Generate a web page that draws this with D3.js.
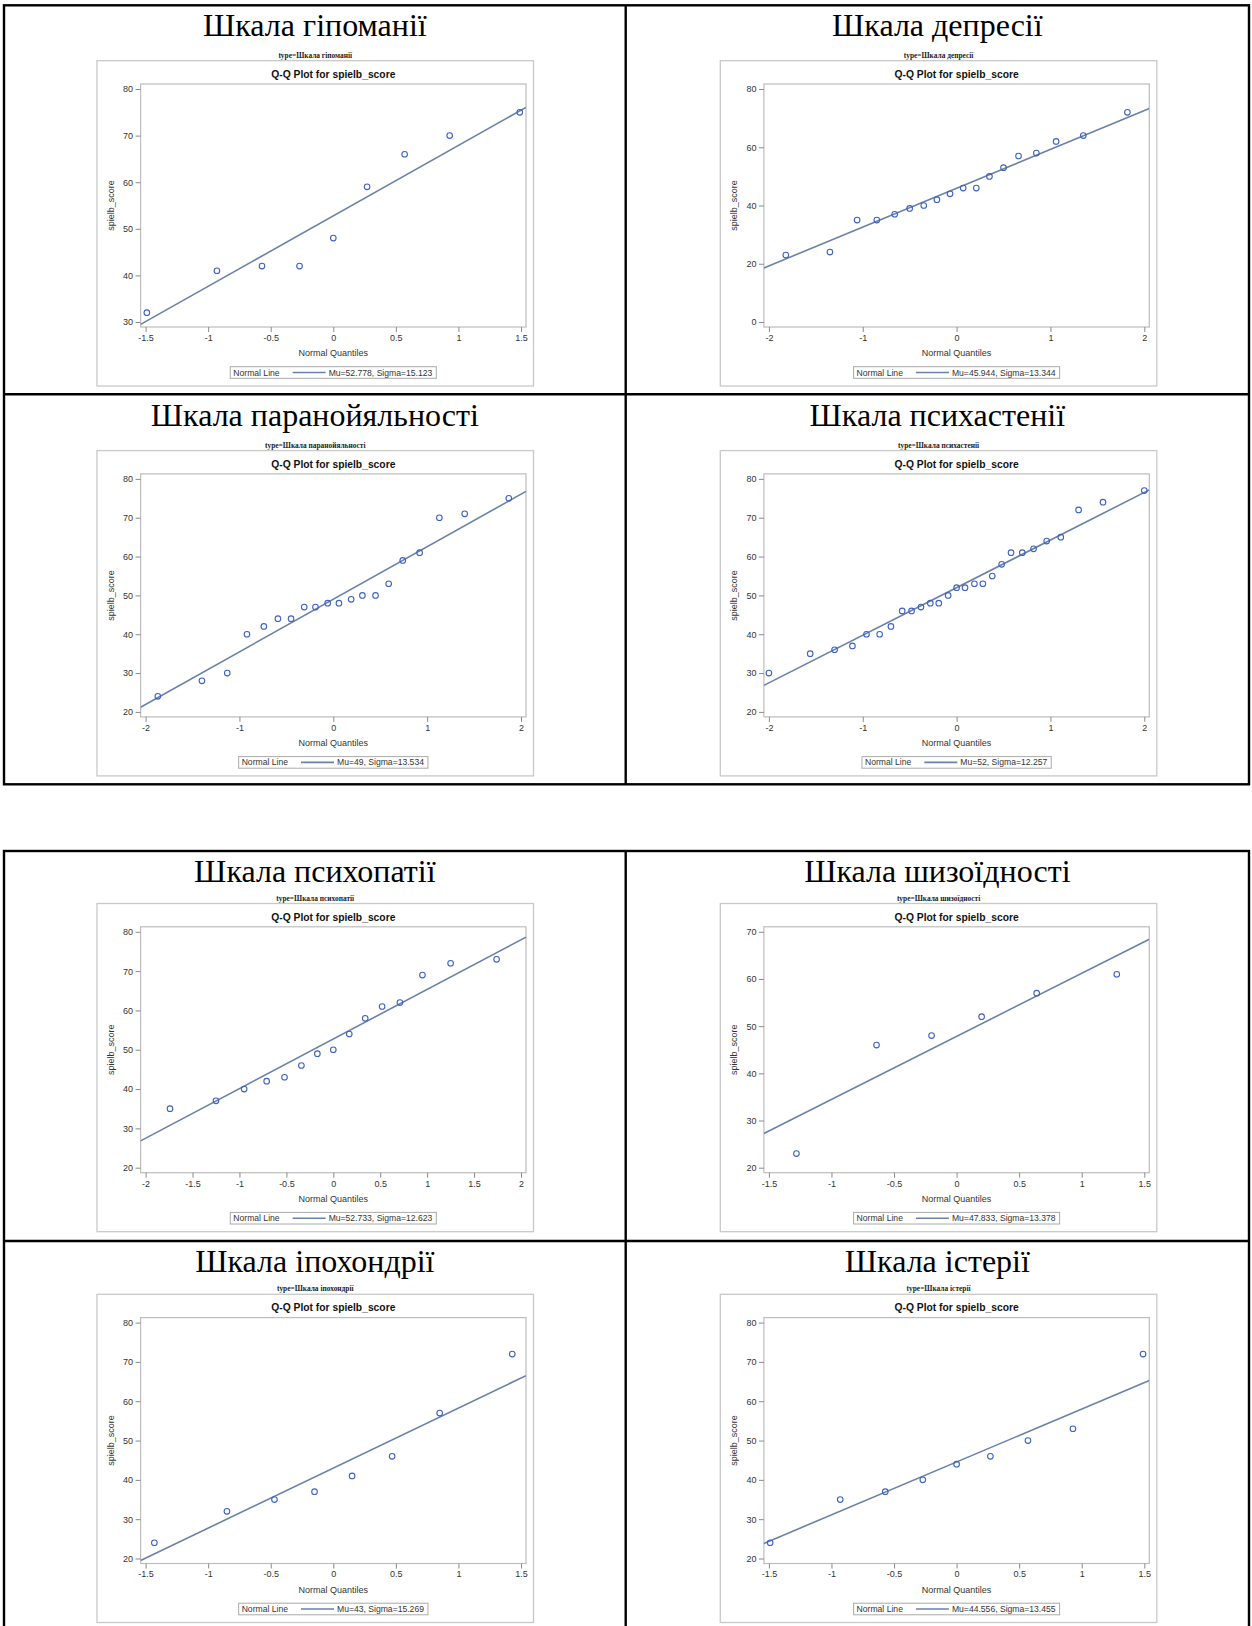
<!DOCTYPE html>
<html lang="uk">
<head>
<meta charset="utf-8">
<title>Q-Q Plots — spielb_score</title>
<script src="https://cdn.jsdelivr.net/npm/d3@7"></script>
<style>
  html, body { margin: 0; padding: 0; background: #fff; }
  svg { display: block; }
</style>
</head>
<body>
<svg id="chart" width="1252" height="1626"></svg>
<script>
// ---- Scale names (panel headings) ----
const scaleTitles = [
  "Шкала гіпоманії", "Шкала депресії",
  "Шкала паранойяльності", "Шкала психастенії",
  "Шкала психопатії", "Шкала шизоїдності",
  "Шкала іпохондрії", "Шкала істерії"
];

// ---- Observations: normal quantile (x) and sorted spielb_score (y) ----
const hypomaniaQuantiles = [-1.49, -0.93, -0.57, -0.27, 0, 0.27, 0.57, 0.93, 1.49];
const hypomaniaScores    = [32, 41, 42, 42, 48, 59, 66, 70, 75];

const depressionQuantiles = [-1.82, -1.35, -1.06, -0.85, -0.66, -0.50, -0.35, -0.21, -0.07,
                             0.07, 0.21, 0.35, 0.50, 0.66, 0.85, 1.06, 1.35, 1.82];
const depressionScores    = [23, 24, 35, 35, 37, 39, 40, 42, 44, 46, 46, 50, 53, 57, 58, 62, 64, 72];

const paranoiaQuantiles = [-1.87, -1.40, -1.13, -0.92, -0.74, -0.59, -0.45, -0.31, -0.19, -0.06,
                           0.06, 0.19, 0.31, 0.45, 0.59, 0.74, 0.92, 1.13, 1.40, 1.87];
const paranoiaScores    = [24, 28, 30, 40, 42, 44, 44, 47, 47, 48, 48, 49, 50, 50, 53, 59, 61, 70, 71, 75];

const psychastheniaQuantiles = [-2.00, -1.56, -1.30, -1.11, -0.96, -0.82, -0.70, -0.58, -0.48, -0.38,
                                -0.28, -0.19, -0.09, 0, 0.09, 0.19, 0.28, 0.38, 0.48, 0.58,
                                0.70, 0.82, 0.96, 1.11, 1.30, 1.56, 2.00];
const psychastheniaScores    = [30, 35, 36, 37, 40, 40, 42, 46, 46, 47, 48, 48, 50, 52, 52, 53, 53, 55,
                                58, 61, 61, 62, 64, 65, 72, 74, 77];

const psychopathyQuantiles = [-1.74, -1.25, -0.95, -0.71, -0.52, -0.34, -0.17, 0,
                              0.17, 0.34, 0.52, 0.71, 0.95, 1.25, 1.74];
const psychopathyScores    = [35, 37, 40, 42, 43, 46, 49, 50, 54, 58, 61, 62, 69, 72, 73];

const schizoidQuantiles = [-1.28, -0.64, -0.20, 0.20, 0.64, 1.28];
const schizoidScores    = [23, 46, 48, 52, 57, 61];

const hypochondriaQuantiles = [-1.43, -0.85, -0.47, -0.15, 0.15, 0.47, 0.85, 1.43];
const hypochondriaScores    = [24, 32, 35, 37, 41, 46, 57, 72];

const hysteriaQuantiles = [-1.49, -0.93, -0.57, -0.27, 0, 0.27, 0.57, 0.93, 1.49];
const hysteriaScores    = [24, 35, 37, 40, 44, 46, 50, 53, 72];

// ---- Fitted normal line parameters (shown in legends) ----
const muValues    = [52.778, 45.944, 49, 52, 52.733, 47.833, 43, 44.556];
const sigmaValues = [15.123, 13.344, 13.534, 12.257, 12.623, 13.378, 15.269, 13.455];

// ---- Axis tick values ----
const yTickSets = [
  [30, 40, 50, 60, 70, 80],
  [0, 20, 40, 60, 80],
  [20, 30, 40, 50, 60, 70, 80],
  [20, 30, 40, 50, 60, 70, 80],
  [20, 30, 40, 50, 60, 70, 80],
  [20, 30, 40, 50, 60, 70],
  [20, 30, 40, 50, 60, 70, 80],
  [20, 30, 40, 50, 60, 70, 80]
];
const xTickSets = [
  [-1.5, -1, -0.5, 0, 0.5, 1, 1.5],
  [-2, -1, 0, 1, 2],
  [-2, -1, 0, 1, 2],
  [-2, -1, 0, 1, 2],
  [-2, -1.5, -1, -0.5, 0, 0.5, 1, 1.5, 2],
  [-1.5, -1, -0.5, 0, 0.5, 1, 1.5],
  [-1.5, -1, -0.5, 0, 0.5, 1, 1.5],
  [-1.5, -1, -0.5, 0, 0.5, 1, 1.5]
];

const quantileSets = [hypomaniaQuantiles, depressionQuantiles, paranoiaQuantiles, psychastheniaQuantiles,
                      psychopathyQuantiles, schizoidQuantiles, hypochondriaQuantiles, hysteriaQuantiles];
const scoreSets    = [hypomaniaScores, depressionScores, paranoiaScores, psychastheniaScores,
                      psychopathyScores, schizoidScores, hypochondriaScores, hysteriaScores];

// ---- Layout ----
const svg = d3.select("#chart");
const SANS = "'Liberation Sans', Arial, sans-serif";
const SERIF = "'Liberation Serif', 'Times New Roman', serif";

const colEdges = [4, 625.7, 1249];
const tables = [
  { top: 5.3, mid: 394.2, bottom: 784.3 },
  { top: 851, mid: 1241, bottom: 1640 }
];
const frameX = [97, 720.3];
const frameW = 436.5;
const frameTop = [60.7, 450.6, 903.5, 1294.3];
const frameH = [325.3, 325.3, 328.2, 328.2];
const titleBase = [35.7, 425.6, 882.3, 1272.3];

const lineColor = "#6a82a8";
const markerColor = "#3d61c4";
const wallColor = "#bdbdbd";
const textColor = "#333";

// Table grid lines
const grid = svg.append("g").attr("stroke", "#000").attr("stroke-width", 2.4).attr("fill", "none");
tables.forEach(t => {
  grid.append("rect")
    .attr("x", colEdges[0]).attr("y", t.top)
    .attr("width", colEdges[2] - colEdges[0]).attr("height", t.bottom - t.top);
  grid.append("line").attr("x1", colEdges[0]).attr("x2", colEdges[2]).attr("y1", t.mid).attr("y2", t.mid);
  grid.append("line").attr("x1", colEdges[1]).attr("x2", colEdges[1]).attr("y1", t.top).attr("y2", t.bottom);
});

const defs = svg.append("defs");

scaleTitles.forEach((name, i) => {
  const row = Math.floor(i / 2), col = i % 2;
  const fx = frameX[col], fy = frameTop[row], fh = frameH[row];
  const cx = fx + frameW / 2;
  const g = svg.append("g");

  // Heading in the table cell
  g.append("text")
    .attr("x", (colEdges[col] + colEdges[col + 1]) / 2).attr("y", titleBase[row])
    .attr("text-anchor", "middle")
    .attr("font-family", SERIF).attr("font-size", 32)
    .attr("fill", "#000")
    .text(name);

  // BY-group label
  g.append("text")
    .attr("x", cx).attr("y", fy - 3)
    .attr("text-anchor", "middle")
    .attr("font-family", SERIF).attr("font-size", 7.4).attr("font-weight", "bold")
    .attr("fill", "#222")
    .text("type=" + name);

  // Graph frame
  g.append("rect")
    .attr("x", fx).attr("y", fy).attr("width", frameW).attr("height", fh)
    .attr("fill", "#fff").attr("stroke", "#c9c9c9").attr("stroke-width", 1.3);

  // Plot area
  const pl = fx + 43.6, pr = fx + 429, pt = fy + 23.3, pb = fy + fh - 59;
  const pc = (pl + pr) / 2;
  const pad = 5;

  // Graph title
  g.append("text")
    .attr("x", pc).attr("y", fy + 17)
    .attr("text-anchor", "middle")
    .attr("font-family", SANS).attr("font-size", 10.3).attr("font-weight", "bold")
    .attr("fill", "#111")
    .text("Q-Q Plot for spielb_score");

  const xt = xTickSets[i], yt = yTickSets[i];
  const x = d3.scaleLinear().domain([xt[0], xt[xt.length - 1]]).range([pl + pad, pr - pad]);
  const y = d3.scaleLinear().domain([yt[0], yt[yt.length - 1]]).range([pb - pad, pt + pad]);

  const clipId = "clip" + i;
  defs.append("clipPath").attr("id", clipId)
    .append("rect").attr("x", pl).attr("y", pt).attr("width", pr - pl).attr("height", pb - pt);

  g.append("rect")
    .attr("x", pl).attr("y", pt).attr("width", pr - pl).attr("height", pb - pt)
    .attr("fill", "#fff").attr("stroke", wallColor).attr("stroke-width", 1.2);

  const fmt = d => String(d);

  const yAxis = g.append("g").attr("transform", `translate(${pl},0)`)
    .call(d3.axisLeft(y).tickValues(yt).tickFormat(fmt).tickSizeInner(5).tickSizeOuter(0).tickPadding(2.5));
  const xAxis = g.append("g").attr("transform", `translate(0,${pb})`)
    .call(d3.axisBottom(x).tickValues(xt).tickFormat(fmt).tickSizeInner(5).tickSizeOuter(0).tickPadding(2.5));
  [yAxis, xAxis].forEach(a => {
    a.select(".domain").remove();
    a.selectAll(".tick line").attr("stroke", "#8a8a8a");
    a.selectAll(".tick text").attr("fill", textColor).attr("font-family", SANS).attr("font-size", 9);
  });

  // Axis labels
  g.append("text")
    .attr("x", pc).attr("y", pb + 29)
    .attr("text-anchor", "middle")
    .attr("font-family", SANS).attr("font-size", 9).attr("fill", textColor)
    .text("Normal Quantiles");
  g.append("text")
    .attr("transform", `translate(${fx + 16.7},${(pt + pb) / 2}) rotate(-90)`)
    .attr("text-anchor", "middle")
    .attr("font-family", SANS).attr("font-size", 9).attr("fill", textColor)
    .text("spielb_score");

  // Fitted normal line: score = mu + sigma * quantile
  const mu = muValues[i], sigma = sigmaValues[i];
  const q0 = x.invert(pl), q1 = x.invert(pr);
  g.append("line")
    .attr("clip-path", `url(#${clipId})`)
    .attr("x1", x(q0)).attr("y1", y(mu + sigma * q0))
    .attr("x2", x(q1)).attr("y2", y(mu + sigma * q1))
    .attr("stroke", lineColor).attr("stroke-width", 1.6);

  // Observed points
  const pts = quantileSets[i].map((q, k) => ({ q, s: scoreSets[i][k] }));
  g.append("g").attr("clip-path", `url(#${clipId})`)
    .selectAll("circle").data(pts).join("circle")
    .attr("cx", d => x(d.q)).attr("cy", d => y(d.s)).attr("r", 2.8)
    .attr("fill", "none").attr("stroke", markerColor).attr("stroke-width", 1.1);

  // Legend
  const lg = g.append("g");
  const ly = fy + fh - 19.3, lh = 11.6, lfs = 8.6;
  const t1 = lg.append("text").attr("font-family", SANS).attr("font-size", lfs).attr("fill", textColor)
    .attr("y", ly + 8.8).text("Normal Line");
  const t2 = lg.append("text").attr("font-family", SANS).attr("font-size", lfs).attr("fill", textColor)
    .attr("y", ly + 8.8).text(`Mu=${mu}, Sigma=${sigma}`);
  const w1 = t1.node().getComputedTextLength();
  const w2 = t2.node().getComputedTextLength();
  const lw = 3 + w1 + 13 + 33 + 3 + w2 + 4;
  const lx = pc - lw / 2;
  lg.insert("rect", "text")
    .attr("x", lx).attr("y", ly).attr("width", lw).attr("height", lh)
    .attr("fill", "#fff").attr("stroke", "#aaa").attr("stroke-width", 1);
  t1.attr("x", lx + 3);
  lg.append("line")
    .attr("x1", lx + 3 + w1 + 13).attr("x2", lx + 3 + w1 + 13 + 33)
    .attr("y1", ly + lh / 2).attr("y2", ly + lh / 2)
    .attr("stroke", lineColor).attr("stroke-width", 1.6);
  t2.attr("x", lx + 3 + w1 + 13 + 33 + 3);
});
</script>
</body>
</html>
